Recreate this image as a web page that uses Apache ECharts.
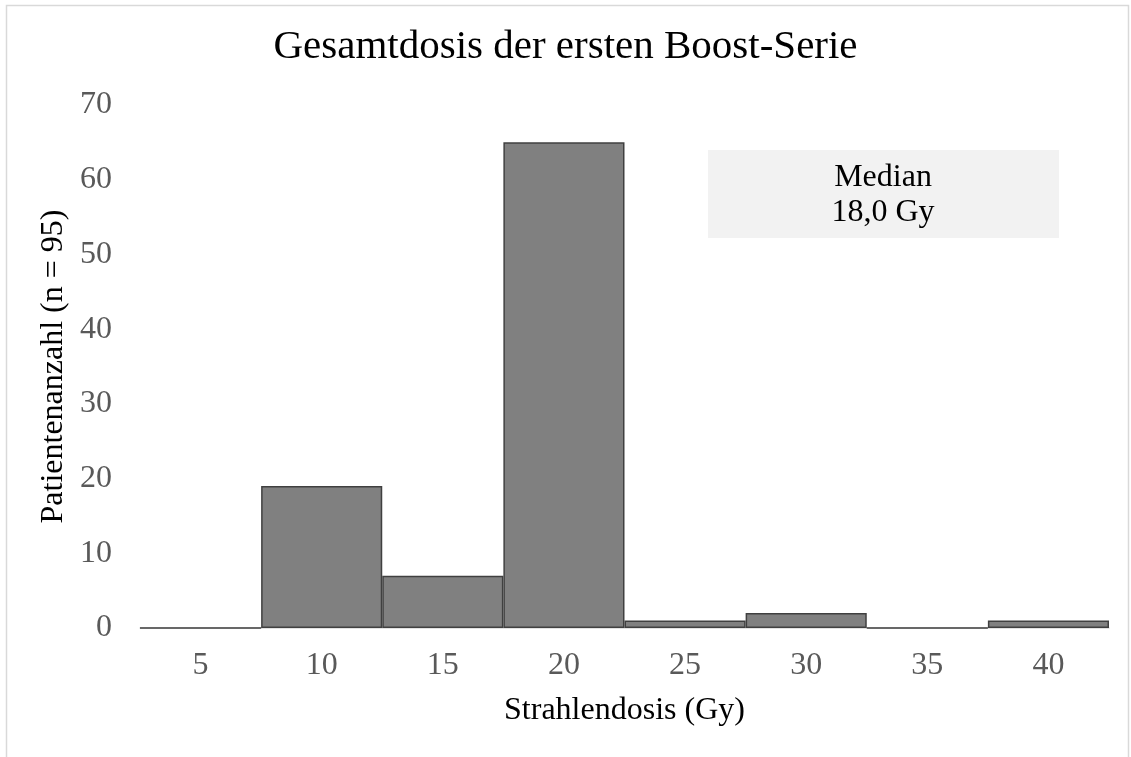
<!DOCTYPE html>
<html>
<head>
<meta charset="utf-8">
<script src="https://cdn.jsdelivr.net/npm/echarts@6/dist/echarts.min.js"></script>
<style>
html,body{margin:0;padding:0;background:#fff;}
#c{width:1131px;height:757px;}
</style>
</head>
<body>
<div id="c"></div>
<script>
const categories = ['5','10','15','20','25','30','35','40'];
const patientCounts = [0, 19, 7, 65, 1, 2, 0, 1];
const yTicks = [0, 10, 20, 30, 40, 50, 60, 70];
const titleText = 'Gesamtdosis der ersten Boost-Serie';
const xName = 'Strahlendosis (Gy)';
const yName = 'Patientenanzahl (n = 95)';
const noteLines = ['Median', '18,0 Gy'];

const FONT = '"Liberation Serif", "Times New Roman", serif';
const chart = echarts.init(document.getElementById('c'), null, {renderer: 'canvas'});
chart.setOption({
  backgroundColor: '#fff',
  animation: false,
  title: {
    text: titleText,
    left: 'center',
    top: 22,
    textStyle: {fontFamily: FONT, fontSize: 41, fontWeight: 'normal', color: '#000'}
  },
  grid: {left: 140, right: 22, top: 105, bottom: 129, containLabel: false},
  xAxis: {
    type: 'category',
    data: categories,
    name: xName,
    nameLocation: 'middle',
    nameGap: 67,
    nameTextStyle: {fontFamily: FONT, fontSize: 32, color: '#000'},
    axisLine: {show: true, lineStyle: {color: '#d9d9d9', width: 1.5}},
    axisTick: {show: false},
    axisLabel: {fontFamily: FONT, fontSize: 32, color: '#595959', margin: 22}
  },
  yAxis: {
    type: 'value',
    min: yTicks[0],
    max: yTicks[yTicks.length - 1],
    interval: 10,
    name: yName,
    nameLocation: 'middle',
    nameGap: 66,
    nameTextStyle: {fontFamily: FONT, fontSize: 32, color: '#000'},
    axisLine: {show: false},
    axisTick: {show: false},
    splitLine: {show: false},
    axisLabel: {fontFamily: FONT, fontSize: 32, color: '#595959', margin: 28}
  },
  series: [{
    type: 'bar',
    data: patientCounts,
    barCategoryGap: '0%',
    itemStyle: {color: '#808080', borderColor: '#404040', borderWidth: 1.5}
  }],
  graphic: [
    {type: 'rect', left: 4, top: 3, shape: {width: 1122, height: 760}, style: {fill: 'none', stroke: '#d9d9d9', lineWidth: 1.5}, silent: true},
    {type: 'rect', left: 708, top: 150, shape: {width: 351, height: 88}, style: {fill: '#f2f2f2'}, silent: true},
    {type: 'text', x: 883, y: 195, style: {text: noteLines.join('\n'), font: '32px ' + FONT, fill: '#000', align: 'center', verticalAlign: 'middle', lineHeight: 35}}
  ]
});
</script>
</body>
</html>
